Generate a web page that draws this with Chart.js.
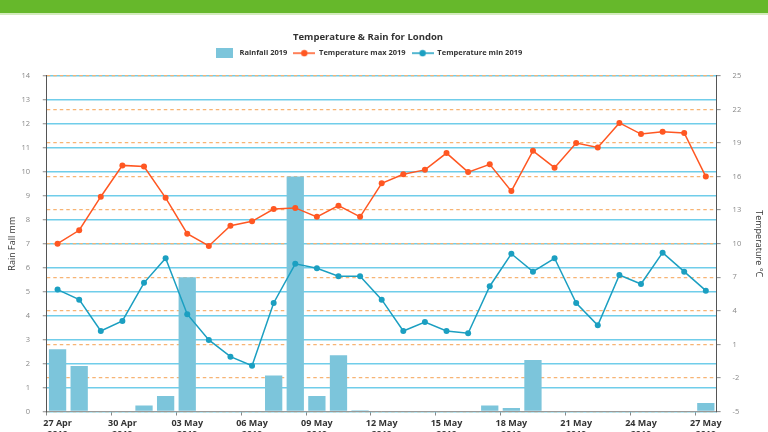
<!DOCTYPE html>
<html>
<head>
<meta charset="utf-8">
<script src="https://cdn.jsdelivr.net/npm/chart.js@4.4.1/dist/chart.umd.min.js"></script>
<style>
  html,body{margin:0;padding:0;background:#fff;overflow:hidden;width:768px;height:432px;}
  .topbar{position:absolute;left:0;top:0;width:768px;height:13px;background:#66b82b;border-bottom:2px solid #d3ebbd;}
  .wrap{position:absolute;left:0;top:15px;width:768px;height:426px;}
</style>
</head>
<body>
<div class="topbar"></div>
<div class="wrap"><canvas id="weather"></canvas></div>
<script>
// ── DATA ──
const days = ['27 Apr','28 Apr','29 Apr','30 Apr','01 May','02 May','03 May','04 May','05 May','06 May',
              '07 May','08 May','09 May','10 May','11 May','12 May','13 May','14 May','15 May','16 May',
              '17 May','18 May','19 May','20 May','21 May','22 May','23 May','24 May','25 May','26 May','27 May'];
const year = '2019';
const rainfall = [2.6, 1.9, 0, 0, 0.25, 0.65, 5.6, 0, 0, 0, 1.5, 9.8, 0.65, 2.35, 0.05, 0,
                  0, 0, 0, 0, 0.25, 0.15, 2.15, 0.03, 0, 0, 0, 0, 0, 0.03, 0.35];
const tempMax = [10.0, 11.2, 14.2, 17.0, 16.9, 14.1, 10.9, 9.8, 11.6, 12.0, 13.1, 13.2, 12.4, 13.4, 12.4, 15.4,
                 16.2, 16.6, 18.1, 16.4, 17.1, 14.7, 18.3, 16.8, 19.0, 18.6, 20.8, 19.8, 20.0, 19.9, 16.0];
const tempMin = [5.9, 5.0, 2.2, 3.1, 6.5, 8.7, 3.7, 1.4, -0.1, -0.9, 4.7, 8.2, 7.8, 7.1, 7.1, 5.0,
                 2.2, 3.0, 2.2, 2.0, 6.2, 9.1, 7.5, 8.7, 4.7, 2.7, 7.2, 6.4, 9.2, 7.5, 5.8];
const rainAxis = [0, 14, 1];   // min, max, step
const tempAxis = [-5, 25, 3];

const COLORS = { bar:'#7cc5db', max:'#ff5722', min:'#1b9fc1', gridBlue:'#70cdea', gridOrange:'#f7b474', axis:'#555', text:'#333', tick:'#888' };
const FONT = "'Open Sans', 'Noto Sans', sans-serif";

// legend markers: a box for the bars, a line with a dot for the temperatures
function marker(color, kind){
  const c = document.createElement('canvas');
  const g = c.getContext('2d');
  if(kind === 'bar'){ c.width = 17; c.height = 10; g.fillStyle = color; g.fillRect(0,0,17,10); return c; }
  c.width = 22; c.height = 8;
  g.strokeStyle = color; g.lineWidth = 1.5;
  g.beginPath(); g.moveTo(0,4); g.lineTo(22,4); g.stroke();
  g.fillStyle = color; g.beginPath(); g.arc(11,4,3.2,0,Math.PI*2); g.fill();
  return c;
}
const markers = [marker(COLORS.bar,'bar'), marker(COLORS.max,'line'), marker(COLORS.min,'line')];

// extra space under the legend
const legendGap = { id:'legendGap', beforeInit(chart){
  const fit = chart.legend.fit;
  chart.legend.fit = function(){ fit.bind(chart.legend)(); this.height += 9; };
}};
// title + legend sit a bit left of the canvas centre
const shiftHeader = { id:'shiftHeader', afterLayout(chart){
  [chart.titleBlock, chart.legend].forEach(b => { if(b){ b.left -= 16; b.right -= 16; } });
}};

new Chart(document.getElementById('weather').getContext('2d'), {
  data: {
    labels: days,
    datasets: [
      { type:'bar', label:'Rainfall 2019', data: rainfall, yAxisID:'y', backgroundColor: COLORS.bar,
        barPercentage: 0.8, categoryPercentage: 1.0, order: 3 },
      { type:'line', label:'Temperature max 2019', data: tempMax, yAxisID:'y1', borderColor: COLORS.max,
        backgroundColor: COLORS.max, borderWidth: 1.5, pointRadius: 3, pointBorderWidth: 0, tension: 0, order: 1 },
      { type:'line', label:'Temperature min 2019', data: tempMin, yAxisID:'y1', borderColor: COLORS.min,
        backgroundColor: COLORS.min, borderWidth: 1.5, pointRadius: 3, pointBorderWidth: 0, tension: 0, order: 2 }
    ]
  },
  options: {
    responsive: true, maintainAspectRatio: false, animation: false,
    layout: { padding: 0 },
    plugins: {
      title: { display: true, text: 'Temperature & Rain for London', color: COLORS.text,
               font: { family: FONT, size: 9.5, weight: 'bold' }, padding: { top: 17, bottom: 0 } },
      legend: { position: 'top',
        labels: { usePointStyle: true, pointStyleWidth: 22, padding: 6, color: COLORS.text,
                  font: { family: FONT, size: 7.5, weight: 'bold' },
                  sort: (a, b) => a.datasetIndex - b.datasetIndex,
                  generateLabels(chart){
                    const items = Chart.defaults.plugins.legend.labels.generateLabels(chart);
                    items.forEach(it => it.pointStyle = markers[it.datasetIndex]);
                    return items;
                  } } },
      tooltip: { enabled: true }
    },
    scales: {
      x: { type:'category', offset: true,
           afterFit: s => { s.height = 29.5; },
           grid: { offset: true, drawOnChartArea: false, drawTicks: true, tickLength: 4,
                   color: c => c.index % 3 === 0 ? '#888' : 'rgba(0,0,0,0)' },
           border: { color: '#999', width: 1 },
           ticks: { autoSkip: false, maxRotation: 0, padding: 3, color: COLORS.text,
                    font: { family: FONT, size: 9, weight: 'bold' },
                    callback: (v, i) => i % 3 === 0 ? [days[i], year] : '' } },
      y: { position:'left', min: rainAxis[0], max: rainAxis[1],
           grid: { color: COLORS.gridBlue, lineWidth: 1.5, tickLength: 4, tickColor: COLORS.tick, tickWidth: 1 },
           border: { display: true, color: COLORS.axis, width: 1 },
           ticks: { stepSize: rainAxis[2], padding: 12.7, color: COLORS.tick, font: { family: FONT, size: 7.5 } },
           title: { display: true, text: 'Rain Fall mm', color: COLORS.text, font: { family: FONT, size: 9 },
                    padding: { top: 7, bottom: -9 } } },
      y1: { position:'right', min: tempAxis[0], max: tempAxis[1],
           grid: { color: COLORS.gridOrange, lineWidth: 1.3, tickLength: 4, tickColor: COLORS.tick, tickWidth: 1 },
           border: { display: true, color: COLORS.axis, width: 1, dash: [3.5, 3] },
           ticks: { stepSize: tempAxis[2], padding: 12, color: COLORS.tick, font: { family: FONT, size: 7.5 } },
           title: { display: true, text: 'Temperature °C', color: COLORS.text, font: { family: FONT, size: 9 },
                    padding: { top: 4, bottom: 0 } } }
    }
  },
  plugins: [legendGap, shiftHeader]
});
</script>
</body>
</html>
